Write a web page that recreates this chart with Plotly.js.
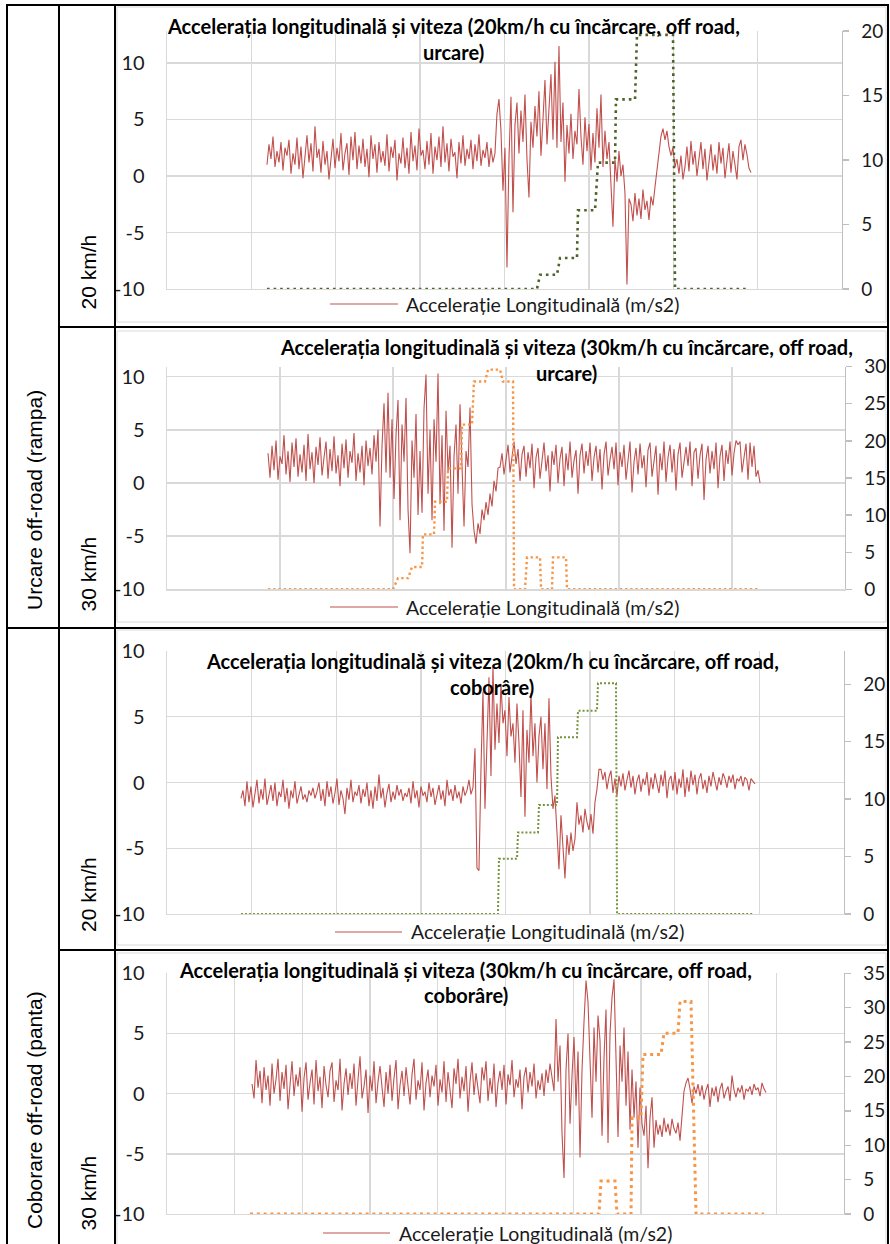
<!DOCTYPE html>
<html><head><meta charset="utf-8">
<script src="https://cdn.plot.ly/plotly-3.0.1.min.js"></script>
<style>html,body{margin:0;padding:0;background:#fff}#chart{width:890px;height:1244px}</style>
</head><body><div id="chart"></div>
<script>
// ---------- DATA ----------
const groupLabels = ["Urcare off-road (rampa)", "Coborare off-road (panta)"];
const rowLabels = ["20 km/h", "30 km/h", "20 km/h", "30 km/h"];
const titleLine1 = [
  "Accelerația longitudinală și viteza (20km/h cu încărcare, off road,",
  "Accelerația longitudinală și viteza (30km/h cu încărcare, off road,",
  "Accelerația longitudinală și viteza (20km/h cu încărcare, off road,",
  "Accelerația longitudinală și viteza (30km/h cu încărcare, off road,"
];
const titleLine2 = ["urcare)", "urcare)", "coborâre)", "coborâre)"];
const accelName = "Accelerație Longitudinală (m/s2)";
const speedName = "Viteza (km/h)";
const leftTicks = [-10, -5, 0, 5, 10];
const rightTicks1 = [0, 5, 10, 15, 20];
const rightTicks2 = [0, 5, 10, 15, 20, 25, 30];
const rightTicks3 = [0, 5, 10, 15, 20];
const rightTicks4 = [0, 5, 10, 15, 20, 25, 30, 35];

// time span of the acceleration record (x units: one grid cell = 10)
const accelSpan1 = [11.85, 69.21];
const accelSpan2 = [8.94, 52.48];
const accelSpan3 = [8.74, 69.48];
const accelSpan4 = [12.56, 88.48];

// Panel 1: 20 km/h, urcare
const accel1 = [
 1.0,2.8,1.5,3.5,0.8,2.2,1.2,3.0,0.5,2.5,1.8,3.2,0.2,2.0,1.0,3.4,0.6,2.6,-0.2,1.8,
 3.6,1.2,2.9,0.4,4.4,1.6,2.4,0.3,3.1,1.0,2.2,-0.3,1.9,3.3,0.7,2.5,1.3,3.8,0.5,2.0,
 2.9,0.1,3.5,1.4,3.9,0.6,2.7,1.1,3.3,0.8,2.4,-0.1,3.6,1.5,2.8,0.3,3.0,1.2,2.2,0.9,
 3.7,0.4,2.6,1.6,3.2,-0.4,2.0,1.1,3.4,0.7,2.5,0.2,3.9,1.3,2.7,0.5,4.2,1.8,2.3,0.6,
 3.1,1.0,3.8,0.2,2.6,1.4,3.5,0.8,4.4,1.2,2.9,0.4,3.3,1.7,2.1,-0.2,3.0,1.1,3.6,0.9,
 2.4,1.5,3.2,0.6,2.8,1.3,3.7,0.9,2.3,1.6,3.0,0.8,2.5,1.2,2.0,
 5.5,6.8,4.0,-1.3,2.5,-8.1,1.5,7.0,-3.2,4.5,6.5,2.0,5.8,3.0,7.2,1.5,-1.9,4.8,2.5,6.2,
 3.5,7.5,1.8,5.0,8.5,2.8,6.0,9.0,3.2,10.1,2.5,11.5,
 3.0,6.5,-0.5,4.5,2.0,5.5,1.5,4.0,2.8,7.7,3.5,1.0,5.2,2.2,4.6,0.5,3.8,1.2,6.0,2.5,
 7.2,0.8,4.0,1.5,3.0,-1.0,
 -4.5,1.5,-0.5,2.2,0.0,1.0,-1.5,-9.6,-2.0,
 -2.5,-4.0,-1.5,-3.5,-2.0,-3.8,-1.2,-3.0,-2.2,-3.9,-1.8,-2.6,
 -1.0,0.5,2.0,3.5,4.2,3.2,4.0,2.6,1.8,2.5,0.8,1.5,
 0.2,1.8,-0.3,0.8,2.6,0.4,3.1,1.0,2.2,0.0,1.5,3.0,0.6,2.4,-0.4,1.2,2.8,0.5,1.9,0.2,
 3.0,1.1,2.5,-0.2,1.6,2.9,0.3,2.2,1.0,-0.3,2.6,3.2,1.4,2.8,1.9,0.7,0.3
];
const speedT1 = [11.85,43.85,44.21,46.22,46.58,48.59,48.71,50.73,51.08,53.10,53.21,55.47,55.70,59.97,60.21,68.92];
const speed1  = [0,0,1.1,1.1,2.4,2.4,6.1,6.1,9.8,9.8,14.7,14.7,19.7,19.7,0,0];

// Panel 2: 30 km/h, urcare
const accel2 = [
 2.8,0.5,3.5,1.2,4.0,0.3,2.5,1.8,4.5,0.8,3.0,0.1,3.8,1.5,4.2,0.6,2.7,1.0,3.6,0.2,
 4.6,1.3,2.9,0.0,3.4,1.7,4.3,0.7,2.4,3.9,0.4,3.2,1.1,4.4,0.9,2.6,-0.3,3.7,1.4,4.1,
 0.5,3.0,1.9,4.7,0.2,2.8,1.0,3.5,-0.2,4.0,1.6,3.3,0.8,4.5,2.0,
 5.0,-4.1,3.5,7.5,1.0,8.5,0.5,6.0,-1.5,4.5,7.8,-3.5,5.5,2.0,8.0,-2.5,-6.6,4.0,0.5,6.5,
 -3.0,3.0,-2.8,7.0,10.2,-1.0,5.0,-3.5,6.0,2.0,10.3,-2.0,4.5,-4.5,6.8,1.0,3.5,-6.1,2.5,5.5,
 -1.0,7.4,0.5,-4.1,3.0,1.5,7.1,
 -2.0,-4.5,-5.7,-3.8,-4.8,-2.5,-3.5,-1.8,-3.0,-1.0,-2.2,0.2,-0.8,1.4,
 1.5,2.8,0.8,2.2,3.6,1.0,2.5,3.9,1.8,3.2,0.2,2.7,3.5,0.6,2.9,1.4,3.7,-0.5,2.4,3.3,
 0.4,2.0,3.8,1.1,2.6,-0.8,3.0,1.7,3.6,0.0,2.3,3.4,-0.3,2.8,1.2,3.9,0.5,2.1,3.1,-1.0,
 2.6,3.7,0.9,3.0,1.6,3.8,0.2,2.4,3.5,1.0,3.2,-0.6,2.7,3.9,0.7,2.2,3.4,1.3,3.8,-0.2,
 2.9,1.5,3.6,0.3,2.5,3.9,-0.9,2.0,3.3,0.8,3.7,1.4,2.6,-0.4,3.1,3.8,0.6,2.3,3.5,-1.1,
 2.8,1.2,3.9,0.1,2.4,3.6,1.0,3.2,-0.7,2.7,3.8,0.5,2.1,3.4,1.6,3.9,-0.3,2.9,3.3,0.4,
 2.6,3.7,-1.6,2.2,3.5,0.9,3.0,1.3,3.8,-0.5,2.5,3.6,0.2,3.1,1.8,3.9,0.7,2.8,4.0,3.6,
 3.9,1.0,2.4,3.7,0.3,3.8,1.5,3.5,0.6,1.2,0.0
];
const speedT2 = [8.94,20.0,20.44,21.33,21.68,22.57,22.65,23.63,23.72,24.78,24.87,26.02,26.11,26.99,27.17,28.14,28.41,29.47,29.73,30.62,30.71,31.68,31.86,33.01,33.10,34.07,34.16,35.31,35.40,52.30];
const speed2  = [0,0,1.5,1.5,3.0,3.0,7.4,7.4,11.8,11.8,16.3,16.3,22.2,22.2,28.0,28.0,29.6,29.6,28.0,28.0,0,0,4.3,4.3,0,0,4.3,4.3,0,0];

// Panel 3: 20 km/h, coborâre
const accel3 = [
 -1.2,-0.6,-1.8,0.1,-1.5,-0.3,-1.9,-0.8,0.2,-1.6,-0.5,-1.3,0.3,-1.7,-0.9,-0.2,-1.4,0.0,-1.8,-0.7,
 -1.1,0.2,-1.5,-0.4,-2.0,-0.6,-1.2,0.1,-1.6,-0.8,-0.3,-1.3,-0.9,-1.5,-0.6,-1.0,-0.4,-1.2,-0.7,0.0,
 -1.4,-0.5,-1.8,0.1,-1.1,-0.3,-1.6,-0.8,0.3,-1.7,-0.6,-1.2,-2.4,-0.4,-1.3,0.2,-1.5,-0.7,-1.0,-0.2,
 -1.6,-0.5,-1.1,0.0,-1.8,-0.6,-2.0,-0.3,-1.4,0.6,-1.2,-0.4,-1.9,-0.8,-0.1,-1.5,-0.7,-1.3,-0.2,-1.0,
 -0.5,-1.4,-0.8,-1.1,-0.4,-1.6,0.1,-1.2,-0.6,-1.9,-0.3,-1.0,-0.7,-1.5,0.0,-1.1,-0.4,-1.7,-0.9,-0.2,
 -1.3,-0.6,-1.8,0.2,-1.0,-0.5,-1.4,-0.2,-1.2,-0.7,-1.6,-0.3,-1.0,-0.6,0.2,-0.9,-0.4,
 2.6,-6.5,-6.7,1.0,6.9,-2.0,4.0,8.0,0.5,
 8.9,2.5,6.0,3.0,7.5,4.5,5.5,2.0,6.5,3.5,4.5,1.5,6.0,3.0,
 -1.1,5.5,-2.6,4.0,1.5,6.8,2.0,4.5,0.0,3.5,5.0,1.0,4.5,-0.5,6.4,
 0.5,-2.0,-1.0,-3.5,-6.6,-2.5,-5.0,-7.3,-4.0,-5.5,-3.8,-5.2,-4.3,
 -1.5,-3.2,-2.5,-3.8,-2.0,-3.0,-3.6,-2.4,-3.9,-1.5,-0.5,1.0,
 1.0,0.2,0.8,-0.5,0.4,0.9,-0.8,0.3,-1.0,0.5,-0.3,0.7,-0.6,0.2,0.9,-0.4,0.5,-0.9,0.1,0.6,
 -0.7,0.3,-0.2,0.8,-1.0,0.4,-0.5,0.7,0.0,-0.8,0.6,-0.3,0.9,-1.2,0.2,0.5,-0.6,0.8,-0.9,0.3,
 -0.4,1.0,-1.1,0.4,-0.7,0.9,-0.2,0.6,-0.9,0.3,0.7,-0.5,0.2,-0.8,0.5,-0.3,0.8,0.1,-0.6,0.4,
 -0.2,0.7,0.3,-0.4,0.5,0.0,0.6,-0.5,0.3,0.1,0.5,-0.3,0.4,0.2,-0.6,0.3,0.1,-0.1
];
const speedT3 = [8.74,39.11,39.23,41.36,41.48,43.84,43.96,46.09,46.20,48.45,48.57,50.81,50.93,53.06,53.18,69.25];
const speed3  = [0,0,4.8,4.8,7.1,7.1,9.5,9.5,15.4,15.4,17.7,17.7,20.1,20.1,0,0];

// Panel 4: 30 km/h, coborâre
const accel4 = [
 0.8,-0.4,2.8,0.5,1.9,-0.8,2.2,0.3,1.5,-1.0,2.5,0.0,1.2,2.9,-0.6,1.8,0.4,2.4,-1.3,1.0,
 2.7,-0.2,1.6,0.6,2.2,-1.5,1.3,2.6,-0.5,0.9,2.0,-0.9,2.8,0.2,1.4,-1.2,2.3,0.7,-0.3,1.9,
 2.6,-0.7,1.1,0.3,2.9,-1.4,0.8,2.1,-0.1,1.7,0.4,2.5,-1.0,1.2,3.1,-0.4,0.6,2.0,-1.6,1.5,
 0.2,2.7,-0.8,1.0,2.3,0.5,-1.1,1.8,0.0,2.4,-0.6,1.3,2.8,-1.3,0.7,1.9,-0.2,2.2,0.4,-0.9,
 1.6,2.9,-0.5,1.1,0.3,2.6,-1.4,0.9,2.0,-0.3,1.5,0.6,2.4,-1.0,1.2,0.1,2.7,-0.7,1.8,0.5,
 -1.2,2.1,0.8,2.9,-0.4,1.4,0.2,2.3,-1.5,1.0,2.6,-0.1,1.7,0.4,-0.8,2.2,1.1,2.7,-0.6,1.3,
 0.0,2.5,-1.1,0.9,1.9,0.3,2.4,-0.9,1.6,0.7,2.8,-0.3,1.2,0.5,2.0,-1.3,1.4,2.2,0.1,1.8,
 0.6,2.5,-0.4,1.1,0.3,1.7,-0.2,2.0,0.9,2.5,1.4,0.2,
 6.2,1.0,4.0,-3.3,-7.0,2.0,5.0,-2.5,1.5,4.7,-1.0,3.5,-5.3,2.0,6.0,9.4,7.6,2.5,-2.0,5.5,
 1.0,6.5,4.4,-3.5,3.0,7.0,-4.1,5.0,8.0,9.5,3.0,-3.6,
 4.0,1.0,5.5,-1.0,3.5,-3.0,2.0,-2.0,1.0,-4.5,0.5,-2.5,-3.5,-1.0,-6.2,-2.0,
 -0.3,-4.5,-2.2,-3.4,-2.6,-3.6,-2.0,-3.2,-2.5,-3.5,-2.1,-2.9,-3.3,-2.4,-3.9,
 -2.0,0.2,0.9,1.3,0.4,-0.8,0.6,0.0,0.8,-0.2,
 0.7,-0.5,0.3,0.8,-1.1,0.5,-0.2,0.6,-0.7,0.4,0.9,-0.4,0.2,0.6,-0.6,1.5,0.3,-0.3,0.5,0.1,
 0.7,-0.5,0.4,0.2,0.6,-0.1,0.8,0.3,0.5,-0.2,0.9,0.4,0.1
];
const speedT4 = [12.26,63.81,64.11,66.17,66.47,68.54,68.69,70.01,70.31,72.97,73.41,75.48,75.78,77.40,78.14,88.18];
const speed4  = [0,0,4.8,4.8,0,0,14.0,14.0,23.2,23.2,26.3,26.3,30.9,30.9,0,0];

// ---------- LAYOUT GEOMETRY (pixels) ----------
const W = 890, H = 1244;
const X = p => p / W, Y = p => 1 - p / H;
const FONT = "Lato, 'Open Sans', sans-serif";

const panels = [
  {acc: accel1, span: accelSpan1, st: speedT1, sv: speed1, rt: rightTicks1,
   l:167, r:842, t:31, b:289, xmax:80, yl:[-10,12.83], yr:[0,20],
   spd:{color:'#4F6228', width:2.6, dash:'2.6px,4px'},
   tx:453.5, ty1:26, ty2:52, lg:{x0:330, x1:398, y:304, tx:404}},
  {acc: accel2, span: accelSpan2, st: speedT2, sv: speed2, rt: rightTicks2,
   l:167, r:845, t:366.7, b:589.3, xmax:60, yl:[-10,10.94], yr:[0,30],
   spd:{color:'#F79646', width:2.4, dash:'2.4px,2.8px'},
   tx:566, ty1:347, ty2:373, lg:{x0:330, x1:398, y:607, tx:404}},
  {acc: accel3, span: accelSpan3, st: speedT3, sv: speed3, rt: rightTicks3,
   l:167, r:844, t:651, b:914, xmax:80, yl:[-10,10], yr:[0,22.9],
   spd:{color:'#77933C', width:2, dash:'2px,2px'},
   tx:492.5, ty1:661, ty2:687, lg:{x0:335, x1:402, y:932, tx:409}},
  {acc: accel4, span: accelSpan4, st: speedT4, sv: speed4, rt: rightTicks4,
   l:167, r:844, t:973.3, b:1214, xmax:100, yl:[-10,10], yr:[0,35],
   spd:{color:'#F79646', width:3, dash:'3px,3.8px'},
   tx:465.5, ty1:970, ty2:995, lg:{x0:323, x1:390, y:1233, tx:397}}
];

const traces = [];
const layout = {
  width: W, height: H, margin: {l:0, r:0, t:0, b:0},
  paper_bgcolor: '#fff', plot_bgcolor: 'rgba(0,0,0,0)',
  showlegend: false, shapes: [], annotations: [],
  font: {family: FONT, color: '#000'}
};

panels.forEach((p, i) => {
  const xs = i === 0 ? '' : String(i + 1);
  const yl = 2 * i + 1, yr = 2 * i + 2;
  const ylId = yl === 1 ? 'y' : 'y' + yl, yrId = 'y' + yr;
  const xId = 'x' + xs;
  const n = p.acc.length;
  const t = p.acc.map((_, k) => p.span[0] + k * (p.span[1] - p.span[0]) / (n - 1));
  traces.push({x: t, y: p.acc, xaxis: xId, yaxis: ylId, type: 'scatter', mode: 'lines',
    name: accelName, line: {color: '#C0504D', width: 1.1}, hoverinfo: 'skip'});
  traces.push({x: p.st, y: p.sv, xaxis: xId, yaxis: yrId, type: 'scatter', mode: 'lines',
    name: speedName, line: p.spd, hoverinfo: 'skip'});

  layout['xaxis' + xs] = {domain: [X(p.l), X(p.r)], range: [0, p.xmax], anchor: ylId,
    tick0: 0, dtick: 10, showgrid: true, gridcolor: '#d9d9d9', gridwidth: 1.4,
    showline: true, linecolor: '#d9d9d9', linewidth: 1.4, zeroline: false,
    showticklabels: false, ticks: '', fixedrange: true};
  layout['yaxis' + (yl === 1 ? '' : yl)] = {domain: [Y(p.b), Y(p.t)], range: p.yl, anchor: xId,
    tickmode: 'array', tickvals: leftTicks, ticktext: leftTicks.map(String),
    showgrid: true, gridcolor: '#d9d9d9', gridwidth: 1.4, showline: true, linecolor: '#d9d9d9', linewidth: 1.4,
    zeroline: false, ticks: '', ticklabelstandoff: 17,
    tickfont: {family: FONT, size: 20, color: '#1a1a1a'}, fixedrange: true};
  layout['yaxis' + yr] = {overlaying: ylId, side: 'right', anchor: xId, range: p.yr,
    tickmode: 'array', tickvals: p.rt, ticktext: p.rt.map(String),
    showgrid: false, zeroline: false, showline: true, linecolor: '#bfbfbf', linewidth: 1.4,
    ticks: 'outside', ticklen: 6, tickcolor: '#bfbfbf', tickwidth: 1.4, ticklabelstandoff: 8,
    tickfont: {family: FONT, size: 19, color: '#1a1a1a'}, fixedrange: true};

  // titles
  layout.annotations.push({xref:'paper', yref:'paper', x: X(p.tx), y: Y(p.ty1), xanchor:'center', yanchor:'middle',
    showarrow:false, text: '<b>' + titleLine1[i] + '</b>', font:{family: FONT, size: 20, color:'#000'}});
  layout.annotations.push({xref:'paper', yref:'paper', x: X(p.tx), y: Y(p.ty2), xanchor:'center', yanchor:'middle',
    showarrow:false, text: '<b>' + titleLine2[i] + '</b>', font:{family: FONT, size: 20, color:'#000'}});
  // legend
  layout.shapes.push({type:'line', xref:'paper', yref:'paper', x0: X(p.lg.x0), x1: X(p.lg.x1), y0: Y(p.lg.y), y1: Y(p.lg.y),
    line:{color:'#C0504D', width:1.1}});
  layout.annotations.push({xref:'paper', yref:'paper', x: X(p.lg.tx), y: Y(p.lg.y), xanchor:'left', yanchor:'middle',
    showarrow:false, text: accelName, font:{family: FONT, size: 19.5, color:'#1a1a1a'}});
  // row label
  const rowY = [272.5, 574.5, 895, 1193.5][i];
  layout.annotations.push({xref:'paper', yref:'paper', x: X(88), y: Y(rowY), xanchor:'center', yanchor:'middle',
    showarrow:false, textangle:-90, text: rowLabels[i], font:{family:"'Liberation Sans', Arial, sans-serif", size: 21, color:'#000'}});
});

// group labels
[[500, groupLabels[0]], [1110, groupLabels[1]]].forEach(([cy, txt]) => {
  layout.annotations.push({xref:'paper', yref:'paper', x: X(34), y: Y(cy), xanchor:'center', yanchor:'middle',
    showarrow:false, textangle:-90, text: txt, font:{family:"'Liberation Sans', Arial, sans-serif", size: 21, color:'#000'}});
});

// chart area frames (light gray)
[[7,322],[331,622],[630,945],[953,1250]].forEach(([t,b]) => {
  layout.shapes.push({type:'rect', xref:'paper', yref:'paper', x0:X(117), x1:X(886), y0:Y(b), y1:Y(t),
    line:{color:'#d9d9d9', width:1}, layer:'below'});
});
// table borders (black)
const blk = (x0,y0,x1,y1) => layout.shapes.push({type:'line', xref:'paper', yref:'paper',
  x0:X(x0), x1:X(x1), y0:Y(y0), y1:Y(y1), line:{color:'#000', width:2}});
blk(6,5,889,5);
blk(7,5,7,1250);
blk(59,5,59,1250);
blk(115,5,115,1250);
blk(888,5,888,1250);
blk(59,327,889,327);
blk(6,628,889,628);
blk(59,950,889,950);

Plotly.newPlot('chart', traces, layout, {staticPlot: true, displayModeBar: false});
</script></body></html>
